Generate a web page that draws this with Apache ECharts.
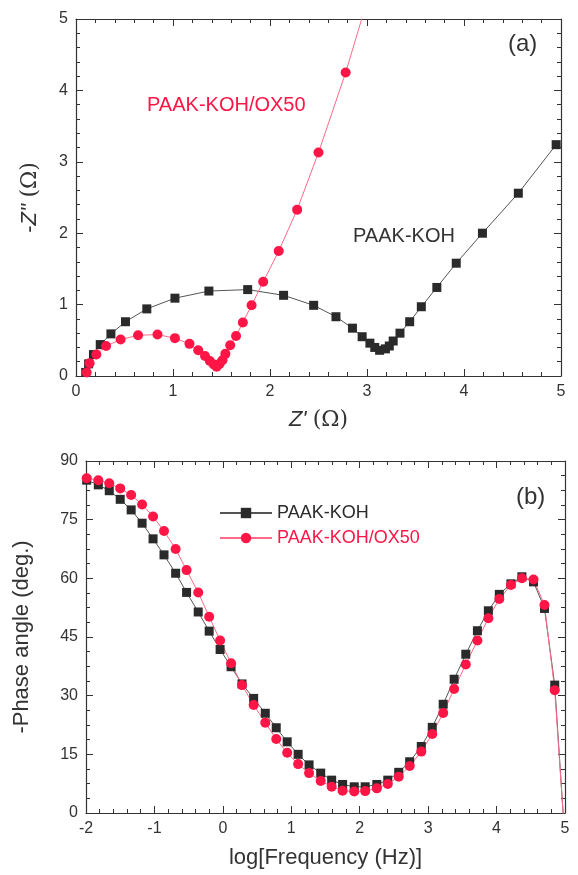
<!DOCTYPE html>
<html>
<head>
<meta charset="utf-8">
<script src="https://cdn.jsdelivr.net/npm/echarts@6/dist/echarts.min.js"></script>
<style>
  html, body { margin: 0; padding: 0; background: #fff; }
  #chart { width: 578px; height: 875px; }
</style>
</head>
<body>
<div id="chart"></div>
<script>
// (a) Nyquist plot, Z' / -Z'' in ohm
var koh_re = [0.10, 0.13, 0.18, 0.25, 0.36, 0.51, 0.73, 1.02, 1.37, 1.77, 2.14, 2.45, 2.68, 2.85, 2.95, 3.03, 3.08, 3.13, 3.19, 3.23, 3.27, 3.34, 3.44, 3.56, 3.72, 3.92, 4.19, 4.56, 4.95];
var koh_im = [0.05, 0.17, 0.30, 0.44, 0.59, 0.76, 0.94, 1.09, 1.19, 1.21, 1.13, 0.99, 0.83, 0.67, 0.55, 0.46, 0.40, 0.36, 0.38, 0.42, 0.49, 0.60, 0.76, 0.97, 1.24, 1.58, 2.00, 2.56, 3.24];
var ox50_re = [0.11, 0.14, 0.21, 0.31, 0.46, 0.64, 0.84, 1.02, 1.17, 1.26, 1.33, 1.38, 1.42, 1.45, 1.48, 1.51, 1.54, 1.59, 1.65, 1.72, 1.81, 1.93, 2.09, 2.28, 2.50, 2.78, 3.10];
var ox50_im = [0.05, 0.18, 0.30, 0.42, 0.51, 0.57, 0.58, 0.53, 0.45, 0.36, 0.28, 0.21, 0.16, 0.13, 0.17, 0.22, 0.31, 0.43, 0.56, 0.75, 0.99, 1.32, 1.75, 2.33, 3.13, 4.25, 5.70];

// (b) Bode phase plot
var logFreq = [-1.99, -1.82, -1.66, -1.50, -1.34, -1.18, -1.02, -0.86, -0.69, -0.53, -0.36, -0.20, -0.04, 0.12, 0.28, 0.45, 0.62, 0.78, 0.94, 1.10, 1.26, 1.43, 1.59, 1.75, 1.92, 2.08, 2.25, 2.41, 2.57, 2.73, 2.90, 3.06, 3.22, 3.38, 3.55, 3.72, 3.88, 4.04, 4.21, 4.37, 4.54, 4.70, 4.85, 4.98];
var phase_koh = [85.1, 83.9, 82.4, 80.2, 77.5, 74.1, 70.1, 66.0, 61.3, 56.4, 51.4, 46.5, 41.8, 37.4, 33.0, 29.3, 25.5, 21.8, 18.2, 15.0, 12.3, 10.2, 8.4, 7.3, 6.7, 6.7, 7.3, 8.4, 10.4, 13.1, 17.0, 21.9, 27.8, 34.2, 40.6, 46.6, 51.7, 55.9, 58.6, 60.4, 59.1, 52.3, 32.7, -2];
var phase_ox50 = [85.6, 85.1, 84.3, 83.0, 81.3, 78.9, 75.8, 72.1, 67.5, 62.1, 56.4, 50.2, 44.1, 38.3, 32.7, 27.6, 23.1, 18.9, 15.4, 12.5, 10.2, 8.2, 6.7, 5.7, 5.5, 5.6, 6.3, 7.4, 9.3, 12.0, 15.7, 20.2, 25.6, 31.7, 38.0, 44.1, 49.8, 54.7, 58.3, 60.0, 59.7, 53.2, 31.4, -2];

var nyqTicks = [0, 1, 2, 3, 4, 5];
var freqTicks = [-2, -1, 0, 1, 2, 3, 4, 5];
var phaseTicks = [0, 15, 30, 45, 60, 75, 90];

var BLACK = "#2a2a2a";
var RED = "#ff1546";
var FONT = "Liberation Sans, Arial, sans-serif";

function pairs(xs, ys) {
  var out = [];
  for (var i = 0; i < xs.length; i++) out.push([xs[i], ys[i]]);
  return out;
}

function valueAxis(o) {
  var ax = {
    type: "value",
    gridIndex: o.grid,
    position: o.position,
    min: o.ticks[0],
    max: o.ticks[o.ticks.length - 1],
    interval: o.ticks[1] - o.ticks[0],
    axisLine: { show: true, onZero: false, lineStyle: { color: "#333", width: 1.2 } },
    axisTick: { show: true, inside: true, length: 7, lineStyle: { color: "#333" } },
    minorTick: { show: true, splitNumber: o.minor, length: 4, lineStyle: { color: "#333" } },
    splitLine: { show: false },
    axisLabel: {
      show: !o.hide,
      color: "#333",
      fontSize: 16,
      fontFamily: FONT,
      margin: 8
    }
  };
  if (o.name) {
    ax.name = o.name;
    ax.nameLocation = "middle";
    ax.nameGap = o.nameGap;
    ax.nameRotate = o.nameRotate;
    ax.nameTextStyle = {
      color: "#333",
      fontSize: 22,
      fontFamily: FONT,
      rich: {
        i: { fontStyle: "italic", fontSize: 22, fontFamily: FONT, color: "#333" },
        s: { fontSize: 22, fontFamily: "DejaVu Serif, serif", color: "#333" }
      }
    };
  }
  return ax;
}

function lineSeries(name, data, xi, yi, color, lineColor, symbol, size) {
  return {
    name: name,
    type: "line",
    xAxisIndex: xi,
    yAxisIndex: yi,
    data: data,
    symbol: symbol,
    symbolSize: size,
    clip: true,
    itemStyle: { color: color },
    lineStyle: { color: lineColor, width: 1 },
    emphasis: { disabled: true },
    animation: false
  };
}

var chart = echarts.init(document.getElementById("chart"), null, { renderer: "canvas" });

var option = {
  backgroundColor: "#fff",
  animation: false,
  grid: [
    { left: 76, top: 19, width: 485, height: 357 },
    { left: 86, top: 461, width: 479, height: 352 }
  ],
  xAxis: [
    valueAxis({ grid: 0, position: "bottom", ticks: nyqTicks, minor: 5, name: "{i|Z'} {s|(Ω)}", nameGap: 33 }),
    valueAxis({ grid: 0, position: "top", ticks: nyqTicks, minor: 5, hide: true }),
    valueAxis({ grid: 1, position: "bottom", ticks: freqTicks, minor: 5, name: "log[Frequency (Hz)]", nameGap: 34 }),
    valueAxis({ grid: 1, position: "top", ticks: freqTicks, minor: 5, hide: true })
  ],
  yAxis: [
    valueAxis({ grid: 0, position: "left", ticks: nyqTicks, minor: 5, name: "-{i|Z''} {s|(Ω)}", nameGap: 35, nameRotate: 90 }),
    valueAxis({ grid: 0, position: "right", ticks: nyqTicks, minor: 5, hide: true }),
    valueAxis({ grid: 1, position: "left", ticks: phaseTicks, minor: 4, name: "-Phase angle (deg.)", nameGap: 53, nameRotate: 90 }),
    valueAxis({ grid: 1, position: "right", ticks: phaseTicks, minor: 4, hide: true })
  ],
  legend: {
    orient: "vertical",
    left: 214,
    top: 499,
    itemWidth: 52,
    itemHeight: 13,
    itemGap: 7,
    selectedMode: false,
    textStyle: { fontSize: 18, fontFamily: FONT },
    data: [
      { name: "PAAK-KOH", textStyle: { color: BLACK } },
      { name: "PAAK-KOH/OX50", textStyle: { color: RED } }
    ]
  },
  graphic: [
    { type: "text", left: 508, top: 32, style: { text: "(a)", fontSize: 24, fontFamily: FONT, fill: "#333" } },
    { type: "text", left: 516, top: 485, style: { text: "(b)", fontSize: 24, fontFamily: FONT, fill: "#333" } },
    { type: "text", left: 147, top: 95, style: { text: "PAAK-KOH/OX50", fontSize: 20, fontFamily: FONT, fill: RED } },
    { type: "text", left: 353, top: 226, style: { text: "PAAK-KOH", fontSize: 20, fontFamily: FONT, fill: "#333" } }
  ],
  series: [
    lineSeries("PAAK-KOH", pairs(koh_re, koh_im), 0, 0, BLACK, "#555", "rect", 9),
    lineSeries("PAAK-KOH/OX50", pairs(ox50_re, ox50_im), 0, 0, RED, "#ff6a88", "circle", 10),
    lineSeries("PAAK-KOH", pairs(logFreq, phase_koh), 2, 2, BLACK, "#555", "rect", 9),
    lineSeries("PAAK-KOH/OX50", pairs(logFreq, phase_ox50), 2, 2, RED, "#ff6a88", "circle", 10)
  ]
};

chart.setOption(option);
</script>
</body>
</html>
